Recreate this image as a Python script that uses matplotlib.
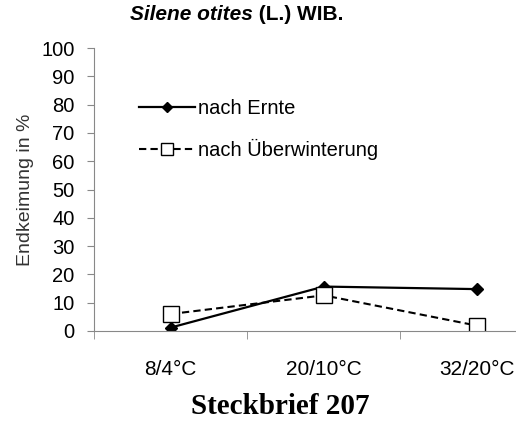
import matplotlib
matplotlib.use("Agg")
import matplotlib.pyplot as plt

# data
categories = ["8/4°C", "20/10°C", "32/20°C"]
nach_ernte = [1.2, 15.7, 14.8]
nach_ueberwinterung = [6.0, 12.6, 1.9]
yticks = [0, 10, 20, 30, 40, 50, 60, 70, 80, 90, 100]

plt.rcParams['font.family'] = ['Liberation Sans', 'DejaVu Sans']

fig = plt.figure(figsize=(5.16, 4.24), dpi=100)
ax = fig.add_axes([94/516, (424-331)/424, 1-94/516, (331-48)/424])

x = list(range(len(categories)))
ax.plot(x, nach_ernte, color='black', lw=1.6, marker='D', ms=6.5,
        mfc='black', mec='black', label='nach Ernte')
ax.plot(x, nach_ueberwinterung, color='black', lw=1.5, ls=(0, (3.5, 2)),
        marker='s', ms=11, mfc='white', mec='black', mew=1,
        label='nach Überwinterung')

ax.set_ylim(0, 100)
ax.set_xlim(-0.5, 2.255)
ax.set_yticks(yticks)
ax.set_xticks(x)
ax.set_xticklabels(categories)
ax.set_xticks([-0.5, 0.5, 1.5], minor=True)
ax.tick_params(axis='x', which='major', length=0, pad=21, labelsize=15)
ax.tick_params(axis='x', which='minor', length=6, color='#888888', direction='out')
ax.tick_params(axis='y', length=5, color='#888888', direction='out', labelsize=14.5, pad=9)

for s in ['top', 'right']:
    ax.spines[s].set_visible(False)
ax.spines['left'].set_color('#888888')
ax.spines['bottom'].set_color('#888888')

ax.set_ylabel('Endkeimung in %', fontsize=14, color='#333333', labelpad=5)

leg = ax.legend(loc='upper left', bbox_to_anchor=(0.063, 0.885), frameon=False,
                fontsize=14.5, handlelength=2.8, labelspacing=1.08, handletextpad=0.15,
                markerscale=0.8)

t1 = fig.text(130/516, 1 - 15/424, 'Silene otites', ha='left', va='center',
              fontsize=15, fontweight='bold', style='italic')
ax.annotate(' (L.) WIB.', xy=(1, 0.5), xycoords=t1, ha='left', va='center',
            fontsize=15, fontweight='bold', annotation_clip=False)
fig.text(280/516, 1 - 407/424, 'Steckbrief 207', ha='center', va='center', fontsize=21,
         fontweight='bold', family=['Liberation Serif', 'DejaVu Serif'])

fig.savefig('out.png', dpi=100)
